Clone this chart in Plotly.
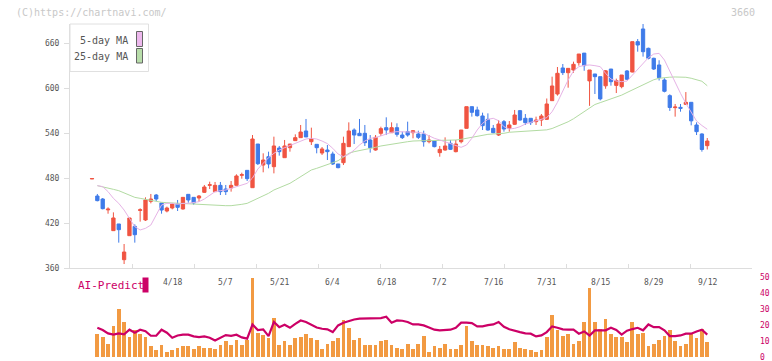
import plotly.graph_objects as go

# ---------------- data ----------------
date_labels = ["4/18", "5/7", "5/21", "6/4", "6/18", "7/2", "7/16", "7/31", "8/15", "8/29", "9/12"]
date_label_index = [15, 25, 35, 45, 55, 65, 75, 85, 95, 105, 115]

opens = [478.8, 456.0, 452.0, 437.5, 409.8, 418.7, 371.1, 403.1, 415.5, 436.8,
         424.0, 448.9, 457.3, 446.7, 436.0, 440.0, 445.3, 438.7, 458.2, 454.2,
         453.3, 460.9, 470.2, 461.8, 470.2, 465.3, 466.7, 470.2, 483.6, 490.2,
         467.1, 525.3, 497.3, 508.4, 495.1, 520.0, 507.1, 520.4, 529.8, 533.8,
         542.7, 528.4, 524.9, 513.3, 517.3, 512.0, 498.7, 500.4, 521.8, 544.0,
         539.6, 539.6, 530.7, 517.3, 539.6, 547.1, 540.4, 547.1, 537.3, 541.8,
         540.4, 538.7, 538.7, 528.4, 529.3, 513.8, 517.3, 526.2, 515.1, 528.4,
         546.2, 575.1, 570.7, 562.7, 558.2, 546.2, 537.3, 555.1, 546.2, 551.6,
         569.8, 559.6, 559.6, 555.1, 557.3, 558.2, 583.1, 592.0, 626.7, 620.4,
         624.0, 633.8, 646.5, 609.5, 618.7, 615.1, 602.9, 625.3, 603.5, 601.8,
         622.7, 621.3, 661.8, 678.7, 652.9, 639.6, 630.7, 610.7, 589.8, 573.8,
         574.2, 578.2, 580.9, 550.7, 538.7, 523.1]
highs = [479.2, 458.7, 453.3, 440.9, 434.2, 418.7, 392.0, 426.7, 418.2, 439.6,
         454.2, 458.7, 458.7, 446.7, 441.8, 446.2, 450.7, 454.2, 458.2, 454.2,
         457.3, 470.7, 475.1, 474.7, 474.7, 470.7, 476.0, 484.9, 487.1, 490.2,
         537.3, 525.3, 512.9, 515.1, 535.1, 522.7, 530.7, 525.3, 538.2, 550.7,
         558.7, 547.1, 524.9, 521.3, 524.0, 515.1, 498.7, 535.1, 554.2, 546.2,
         558.7, 550.7, 537.3, 537.3, 548.4, 560.9, 554.2, 552.9, 541.8, 555.1,
         544.0, 543.1, 543.1, 537.3, 530.7, 522.7, 534.2, 530.7, 530.7, 544.0,
         575.1, 575.1, 575.1, 567.1, 566.2, 550.7, 557.3, 557.3, 556.0, 570.7,
         570.7, 565.3, 559.6, 561.8, 565.3, 586.0, 615.1, 628.0, 632.0, 626.2,
         635.1, 645.3, 646.5, 624.0, 618.7, 615.1, 624.0, 625.3, 612.5, 617.3,
         624.0, 661.8, 665.3, 685.3, 653.8, 640.4, 637.0, 613.0, 591.6, 578.7,
         578.7, 594.6, 580.9, 554.2, 539.6, 533.3]
lows = [478.8, 448.9, 438.2, 432.4, 409.8, 393.8, 365.3, 403.1, 393.8, 421.8,
        422.7, 446.2, 449.3, 432.4, 434.2, 438.2, 436.0, 437.8, 447.1, 444.4,
        448.4, 460.0, 465.3, 461.8, 457.3, 457.3, 461.8, 470.2, 479.1, 476.0,
        467.1, 497.3, 487.6, 492.9, 486.2, 509.8, 507.1, 515.1, 529.8, 533.8,
        534.7, 524.0, 512.9, 510.7, 504.0, 497.3, 492.9, 497.3, 521.8, 525.3,
        536.4, 522.7, 513.8, 516.4, 536.0, 537.3, 540.4, 535.1, 532.0, 535.1,
        532.9, 532.0, 521.8, 526.2, 520.9, 508.4, 516.4, 517.3, 514.2, 526.2,
        546.2, 561.8, 561.8, 544.0, 543.1, 539.6, 536.0, 541.8, 541.8, 550.7,
        556.4, 550.7, 550.7, 550.7, 549.3, 557.3, 583.1, 589.8, 617.3, 600.4,
        620.4, 629.8, 623.0, 576.2, 592.0, 583.5, 599.0, 603.1, 593.3, 599.6,
        610.7, 620.9, 648.4, 641.8, 638.2, 624.0, 610.0, 594.2, 569.5, 561.8,
        568.4, 577.3, 550.2, 537.3, 515.1, 518.0]
closes = [479.2, 449.8, 439.1, 438.5, 426.7, 411.1, 381.3, 426.7, 404.4, 437.6,
          450.7, 452.0, 452.0, 437.3, 440.0, 445.3, 440.9, 454.2, 450.7, 446.7,
          456.0, 468.0, 471.0, 470.2, 461.8, 461.8, 470.2, 482.7, 484.4, 479.1,
          532.0, 499.1, 504.0, 498.7, 522.7, 515.1, 522.7, 525.3, 533.8, 541.3,
          534.7, 532.0, 520.4, 518.7, 515.1, 498.7, 493.8, 526.2, 542.7, 537.3,
          536.4, 527.1, 520.4, 534.2, 545.8, 544.0, 547.1, 538.2, 533.8, 537.3,
          543.1, 534.2, 528.4, 530.7, 521.8, 518.2, 522.7, 518.2, 525.3, 544.0,
          575.1, 567.6, 563.1, 549.8, 544.0, 540.4, 552.0, 545.3, 550.7, 564.0,
          557.3, 553.8, 553.8, 557.3, 562.7, 578.7, 602.7, 619.6, 620.5, 626.2,
          631.6, 645.3, 629.8, 624.0, 615.1, 585.5, 622.9, 608.4, 610.0, 617.3,
          611.6, 661.8, 657.3, 648.4, 639.6, 625.3, 613.8, 595.6, 574.0, 574.6,
          572.9, 580.9, 556.2, 541.8, 518.0, 529.3]

ma5 = [None,
       469.8, 468.5, 461.8, 452.9, 446.2, 437.3, 426.2, 415.1, 410.7, 412.9,
       417.3, 431.6, 444.0, 446.2, 446.2, 444.9, 446.2, 446.2, 447.1, 448.4,
       452.0, 457.3, 461.8, 463.1, 464.0, 466.2, 468.5, 470.7, 472.9, 480.0,
       492.0,
       499.6, 507.1, 512.9, 517.3, 520.4, 523.1, 526.2, 529.3, 532.0, 532.9,
       532.0, 529.3, 525.8, 519.6, 512.0, 508.4, 511.6, 517.3, 524.0, 529.3,
       532.9, 533.8, 536.4, 538.7, 540.9, 541.8, 541.8,
       541.8, 541.8, 540.9, 539.6, 536.0, 532.9, 530.7, 528.4, 526.2, 523.5,
       520.9, 524.0, 532.9, 544.0, 552.9, 558.2, 559.6, 556.4, 548.4, 545.3,
       546.2, 548.4, 552.0, 554.2,
       556.0, 558.2, 560.4, 568.4, 580.9, 596.0, 610.7, 622.7, 628.4, 630.2,
       630.7, 629.8, 628.4, 619.6, 612.0, 609.3, 608.4, 609.3, 617.3, 625.3,
       632.9, 640.4, 645.3, 646.2, 637.3, 622.7, 606.2, 592.9, 579.6, 567.6,
       556.0, 550.0, 545.0]

ma25 = [None,
        469.8, 468.5, 466.2, 464.9, 463.1, 460.4, 457.3, 454.2, 452.9, 451.6,
        449.3, 448.4, 447.6, 447.1, 446.7, 446.2, 445.8, 445.3, 444.9, 444.4,
        444.0, 444.0, 444.0, 443.5, 443.1, 443.1, 443.5, 444.9, 446.2,
        449.3, 452.9, 456.0, 459.6, 464.0, 467.1, 469.8, 472.9, 477.3, 481.8,
        487.1, 490.7, 492.9, 495.1, 497.3, 500.4, 503.1, 508.4, 512.9, 515.1,
        516.4, 518.2, 519.6, 520.9, 522.7, 524.0, 525.3, 526.2, 527.6, 528.4,
        529.3, 529.8, 529.8, 529.8, 529.8, 529.8, 529.8, 530.2, 530.7, 531.6,
        532.9, 534.2, 536.0, 537.3, 538.2, 538.7, 539.1, 539.6,
        541.0, 541.5, 542.0, 542.7, 542.9, 543.1, 543.5, 544.2, 546.0, 548.7,
        552.0, 555.0, 559.0, 564.0, 569.0, 573.5, 578.0, 580.5, 583.0, 585.5,
        587.0, 590.5, 594.0, 597.5, 600.4, 604.5, 608.4, 611.0, 613.0, 614.0,
        614.4, 614.7, 614.6, 614.3, 613.0, 611.0, 609.0, 603.0]

volume = [None, 14.0, 12.7, 8.3, 19.6, 30.2, 21.5, 12.1, 16.5, 14.6,
          12.1, 6.5, 4.0, 7.1, 3.3, 4.0, 5.8, 6.5, 6.5, 5.2,
          6.5, 5.8, 5.8, 5.2, 7.1, 10.2, 7.7, 10.8, 7.7, 10.8,
          49.6,
          15.0, 13.5, 11.5, 24.6, 7.7, 9.8, 7.1, 11.5, 12.7, 14.6,
          11.5, 10.8, 4.6, 8.3, 10.2, 11.5, 23.3, 18.3, 10.8, 11.5,
          7.1, 7.1, 7.1, 9.6, 10.8, 7.1, 5.8, 4.6, 8.3, 5.2,
          8.3, 13.3, 3.3, 6.5, 5.8, 8.3, 4.6, 4.6, 7.7, 19.0,
          9.6, 7.7, 7.7, 6.5, 5.8, 6.5, 4.6, 4.6,
          9.0, 5.8, 4.6, 4.2, 3.3, 4.0, 12.1, 26.5, 16.5, 13.3,
          14.6, 8.3, 10.2, 22.1, 43.3, 21.5, 17.5, 24.0, 14.6, 12.1,
          12.1, 9.0, 21.5, 14.6, 15.2, 6.5, 8.3, 10.8, 13.3, 17.1,
          9.6, 6.5, 8.3, 14.6, 11.5, 17.7, 9.0]

ai_predict = [None,
              18.3, 16.9, 14.8, 14.0, 14.8, 14.2, 17.1, 15.2, 17.1, 16.2,
              13.3, 13.3, 17.1, 15.2, 12.1, 13.5, 14.0, 14.0, 12.9, 12.5,
              12.9, 12.1, 10.4, 11.9, 13.7, 13.3, 14.0, 12.3, 11.5, 20.3,
              16.9,
              17.3, 13.1, 21.9, 18.7, 20.2, 18.3, 20.8, 22.9, 21.9, 20.2,
              18.5, 17.7, 17.3, 15.6, 19.8, 21.5, 22.7, 23.5, 24.0, 24.0,
              24.0, 24.0, 24.4, 25.2, 21.5, 22.9, 22.7, 21.9, 20.4, 20.4,
              19.8, 18.5, 17.1, 16.7, 16.7, 17.1, 18.3, 21.5, 21.5, 21.2,
              19.2, 19.2, 20.0, 20.4, 21.9, 18.9, 17.4,
              16.7, 15.6, 14.8, 14.6, 12.9, 13.5, 15.6, 19.2, 18.3, 17.3,
              17.1, 17.1, 14.6, 16.0, 13.5, 16.7, 16.7, 16.7, 18.3, 16.9,
              14.0, 16.5, 17.5, 18.3, 16.7, 20.4, 18.7, 18.7, 16.7, 13.1,
              13.1, 13.5, 14.6, 14.6, 16.0, 17.1, 14.0]

price_ticks = [360, 420, 480, 540, 600, 660]
ai_ticks = [0, 10, 20, 30, 40, 50]

n = len(closes)
for name, arr in [("opens", opens), ("highs", highs), ("lows", lows), ("ma5", ma5),
                  ("ma25", ma25), ("volume", volume), ("ai_predict", ai_predict)]:
    if len(arr) != n:
        raise SystemExit(f"length mismatch {name}: {len(arr)} vs {n}")
idx = list(range(n))

# ---------------- styling ----------------
W, H = 772, 361
MONO = "DejaVu Sans Mono"
RED = "#F05442"
BLUE = "#3F7BE9"
PINK = "#E6B3E6"
GREEN = "#B2DBA2"
ORANGE = "#F29A42"
MAG = "#CC0066"
AX = "#DDDDDD"
TXT = "#555555"


def fx(p):
    return p / W


def fy(p):
    return 1 - p / H


# pixel geometry of plot area
left_px, right_px = 70, 752
first_px, step_px = 92.0, 5.35
x_lo = (left_px - first_px) / step_px
x_hi = (right_px - first_px) / step_px
tick_step = 62 / step_px
x_tickvals = [x_lo + k * tick_step for k in range(1, 12)]

fig = go.Figure()

fig.add_trace(go.Scatter(x=idx, y=ma25, mode="lines", line=dict(color=GREEN, width=1),
                         xaxis="x", yaxis="y", hoverinfo="skip", showlegend=False))
fig.add_trace(go.Scatter(x=idx, y=ma5, mode="lines", line=dict(color=PINK, width=1),
                         xaxis="x", yaxis="y", hoverinfo="skip", showlegend=False))
fig.add_trace(go.Candlestick(
    x=idx, open=opens, high=highs, low=lows, close=closes,
    increasing=dict(line=dict(color=RED, width=1), fillcolor=RED),
    decreasing=dict(line=dict(color=BLUE, width=1), fillcolor=BLUE),
    whiskerwidth=0, xaxis="x", yaxis="y", hoverinfo="skip", showlegend=False))

fig.add_trace(go.Bar(x=idx, y=volume, width=0.7, marker=dict(color=ORANGE, line=dict(width=0)),
                     xaxis="x2", yaxis="y2", hoverinfo="skip", showlegend=False))
fig.add_trace(go.Scatter(x=idx, y=ai_predict, mode="lines", line=dict(color=MAG, width=2.2),
                         xaxis="x2", yaxis="y2", hoverinfo="skip", showlegend=False))

annotations = []
for lab, i in zip(date_labels, date_label_index):
    annotations.append(dict(x=i, xref="x", y=fy(282.5), yref="paper", text=lab,
                            showarrow=False, font=dict(family=MONO, size=8, color=TXT),
                            xanchor="center", yanchor="middle"))
annotations += [
    dict(x=fx(14), y=fy(12.5), xref="paper", yref="paper", text="(C)https://chartnavi.com/",
         showarrow=False, xanchor="left", yanchor="middle",
         font=dict(family=MONO, size=10, color="#C8C8C8")),
    dict(x=fx(757), y=fy(12.5), xref="paper", yref="paper", text="3660",
         showarrow=False, xanchor="right", yanchor="middle",
         font=dict(family=MONO, size=10, color="#C8C8C8")),
    dict(x=fx(130), y=fy(40), xref="paper", yref="paper", text="5-day MA",
         showarrow=False, xanchor="right", yanchor="middle",
         font=dict(family=MONO, size=10, color=TXT)),
    dict(x=fx(130), y=fy(56.5), xref="paper", yref="paper", text="25-day MA",
         showarrow=False, xanchor="right", yanchor="middle",
         font=dict(family=MONO, size=10, color=TXT)),
    dict(x=fx(76), y=fy(285.5), xref="paper", yref="paper", text="AI-Predict",
         showarrow=False, xanchor="left", yanchor="middle",
         font=dict(family=MONO, size=11, color=MAG)),
]

shapes = [
    dict(type="rect", xref="paper", yref="paper", x0=fx(70), x1=fx(148.5), y0=fy(71.5), y1=fy(24),
         line=dict(color="#E0E0E0", width=1), fillcolor="white", layer="above"),
    dict(type="rect", xref="paper", yref="paper", x0=fx(136.5), x1=fx(142.5), y0=fy(46.5), y1=fy(31.5),
         line=dict(color="#666666", width=1), fillcolor="#EDB8ED", layer="above"),
    dict(type="rect", xref="paper", yref="paper", x0=fx(136.5), x1=fx(142.5), y0=fy(63), y1=fy(48.5),
         line=dict(color="#666666", width=1), fillcolor="#B8DDAA", layer="above"),
    dict(type="rect", xref="paper", yref="paper", x0=fx(142.5), x1=fx(148.5), y0=fy(292.5), y1=fy(277.5),
         line=dict(width=0), fillcolor=MAG, layer="above"),
]

fig.update_layout(
    width=W, height=H, margin=dict(l=0, r=0, t=0, b=0, autoexpand=False),
    paper_bgcolor="white", plot_bgcolor="white", showlegend=False,
    hovermode=False, boxgap=0.12, bargap=0,
    xaxis=dict(domain=[fx(left_px), fx(right_px)], range=[x_lo, x_hi], anchor="y",
               showline=True, linecolor=AX, linewidth=1, ticks="inside", ticklen=4,
               tickcolor=AX, tickvals=x_tickvals, showticklabels=False, showgrid=False,
               zeroline=False, rangeslider=dict(visible=False), fixedrange=True,
               automargin=False),
    yaxis=dict(domain=[fy(268), fy(24)], range=[360, 360 + 244 / 0.75], anchor="x",
               tickvals=price_ticks, ticks="outside", ticklen=5, tickcolor=AX,
               showline=True, linecolor=AX, linewidth=1, showgrid=False, zeroline=False,
               tickfont=dict(family=MONO, size=8, color=TXT), ticklabelstandoff=3,
               fixedrange=True, automargin=False, ticklabeloverflow="allow"),
    xaxis2=dict(domain=[fx(left_px), fx(right_px)], range=[x_lo, x_hi], anchor="y2",
                visible=False, fixedrange=True, automargin=False),
    yaxis2=dict(domain=[fy(357), fy(277.2)], range=[0, 50], anchor="x2", side="right",
                tickvals=ai_ticks, ticks="", showline=False, showgrid=False, zeroline=False,
                tickfont=dict(family=MONO, size=8, color=MAG), ticklabelstandoff=7,
                fixedrange=True, automargin=False, ticklabeloverflow="allow"),
    annotations=annotations, shapes=shapes,
)

fig.write_html("out.html", config={"displayModeBar": False},
               post_script="document.body.style.margin='0';document.body.style.overflow='hidden';")
